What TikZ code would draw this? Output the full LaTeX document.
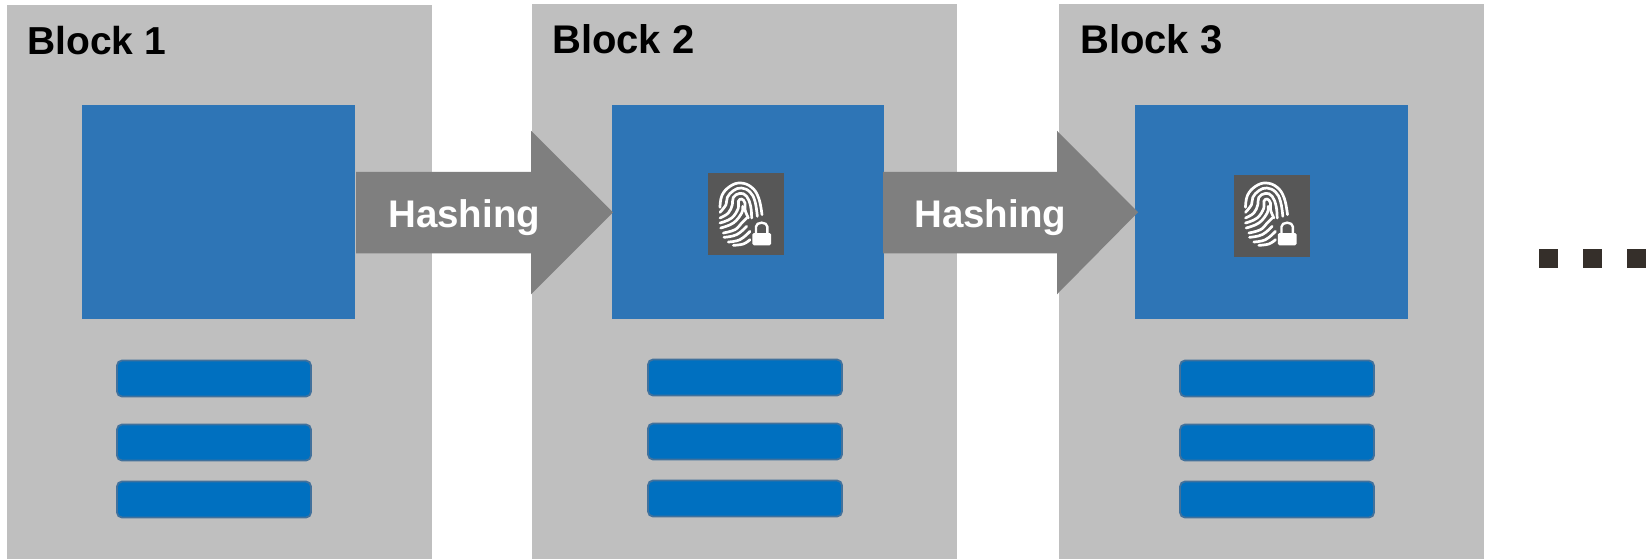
\documentclass[tikz,border=0pt]{standalone}
\usepackage{fontspec}
\setmainfont{Liberation Sans}
\usetikzlibrary{calc}
\definecolor{blockgray}{HTML}{BFBFBF}
\definecolor{panelblue}{HTML}{2E75B6}
\definecolor{barblue}{HTML}{0070C0}
\definecolor{barline}{HTML}{41719C}
\definecolor{arrowgray}{HTML}{7F7F7F}
\definecolor{iconbg}{HTML}{575757}
\definecolor{dotdark}{HTML}{352F2A}
\tikzset{
  blockbox/.style={fill=blockgray,draw=none,inner sep=0pt,outer sep=0pt,anchor=north west,minimum width=425pt,minimum height=560pt},
  panel/.style={fill=panelblue,draw=none,inner sep=0pt,outer sep=0pt,anchor=north west,minimum width=273pt,minimum height=214.5pt},
  txbar/.style={fill=barblue,draw=barline,line width=1.8pt,rounded corners=5pt,inner sep=0pt,outer sep=0pt,anchor=north west,minimum width=194pt,minimum height=36pt},
  blocklabel/.style={anchor=base west,inner sep=0pt,font=\fontsize{40}{48}\selectfont\bfseries,text=black},
  hashlabel/.style={anchor=base west,inner sep=0pt,font=\fontsize{38.5}{46}\selectfont\bfseries,text=white},
  hasharrow/.style={fill=arrowgray,draw=none},
  iconbox/.style={fill=iconbg,draw=none,inner sep=0pt,outer sep=0pt,anchor=north west,minimum width=76pt,minimum height=82pt},
  dotsq/.style={fill=dotdark,draw=none,inner sep=0pt,outer sep=0pt,anchor=north west,minimum width=19pt,minimum height=19pt},
  ridge/.style={draw=white,line width=2.7pt,line cap=round,line join=round},
  fingerprint/.pic={
    \begin{scope}[x=0.3333pt,y=-0.3333pt]
      \draw[ridge] plot[smooth,tension=0.7] coordinates {(60,118) (66,82) (90,55) (122,45) (155,58) (176,90) (186,140)};
      \draw[ridge] plot[smooth,tension=0.7] coordinates {(60,133) (78,110) (82,88) (100,68) (124,60) (150,72) (165,100) (172,145)};
      \draw[ridge] plot[smooth,tension=0.7] coordinates {(60,150) (85,135) (97,110) (100,88) (120,76) (140,85) (152,115) (155,150)};
      \draw[ridge] plot[smooth,tension=0.7] coordinates {(60,165) (95,150) (115,120) (115,100) (125,93) (135,105) (135,125) (145,150)};
      \draw[ridge] plot[smooth,tension=0.7] coordinates {(62,180) (100,165) (125,135) (128,115)};
      \draw[ridge] plot[smooth,tension=0.7] coordinates {(70,195) (105,185) (125,165) (140,150)};
      \draw[ridge] plot[smooth,tension=0.7] coordinates {(72,208) (110,200) (140,175)};
      \draw[ridge] plot[smooth,tension=0.7] coordinates {(85,222) (120,215) (150,190)};
      \draw[ridge] plot[smooth,tension=0.7] coordinates {(100,232) (130,228) (150,215)};
      \fill[white,rounded corners=1.5pt] (157,195) rectangle (213,232);
      \draw[draw=white,line width=2.4pt] (168,197) -- (168,176) arc[start angle=180,end angle=0,x radius=17,y radius=-12] -- (202,197);
    \end{scope}
  }
}
\begin{document}
\begin{tikzpicture}[x=1pt,y=-1pt]
\useasboundingbox (0,0) rectangle (1652,558);
\fill[white] (0,0) rectangle (1652,558);
\begin{scope}
\clip (0,0) rectangle (1652,558);
\node[blockbox] (b1) at (7,5) {};
\node[blockbox] (b2) at (532,4) {};
\node[blockbox] (b3) at (1059,4) {};
\end{scope}
\node[panel] (p1) at (82,104.5) {};
\node[panel,minimum width=272pt] (p2) at (612,104.5) {};
\node[panel] (p3) at (1135,104.5) {};
\node[blocklabel,font=\fontsize{39}{47}\selectfont\bfseries] (l1) at (27,54) {Block 1};
\node[blocklabel] (l2) at (552,53) {Block 2};
\node[blocklabel] (l3) at (1080,53) {Block 3};
\foreach \nm/\bx/\by in {a/117/360.5,b/648/359.5,c/1180/360.5}{
  \node[txbar] (t\nm1) at (\bx,\by) {};
  \node[txbar] (t\nm2) at (\bx,\by+64) {};
  \node[txbar] (t\nm3) at (\bx,\by+121) {};
}
\fill[hasharrow] ($(p2.west)+(1,0.5)$) coordinate (tip1) -- ++(-82,-81.5) -- ++(0,41) -- ($(p1.east)+(1,-40)$) -- ($(p1.east)+(1,41.5)$) -- ($(tip1)+(-82,41)$) -- ($(tip1)+(-82,82)$) -- cycle;
\fill[hasharrow] ($(p3.west)+(3,0.5)$) coordinate (tip2) -- ++(-81,-81.5) -- ++(0,41) -- ($(p2.east)+(-1,-40)$) -- ($(p2.east)+(-1,41.5)$) -- ($(tip2)+(-81,41)$) -- ($(tip2)+(-81,82)$) -- cycle;
\node[hashlabel] (h1) at (388,227) {Hashing};
\node[hashlabel] (h2) at (914,227) {Hashing};
\node[iconbox] (i2) at (708,173) {};
\node[iconbox] (i3) at (1234,175) {};
\pic at (700,168) {fingerprint};
\pic at (1225.5,168) {fingerprint};
\node[dotsq] (d1) at (1539,249) {};
\node[dotsq] (d2) at (1583,249) {};
\node[dotsq] (d3) at (1627,249) {};
\end{tikzpicture}
\end{document}
